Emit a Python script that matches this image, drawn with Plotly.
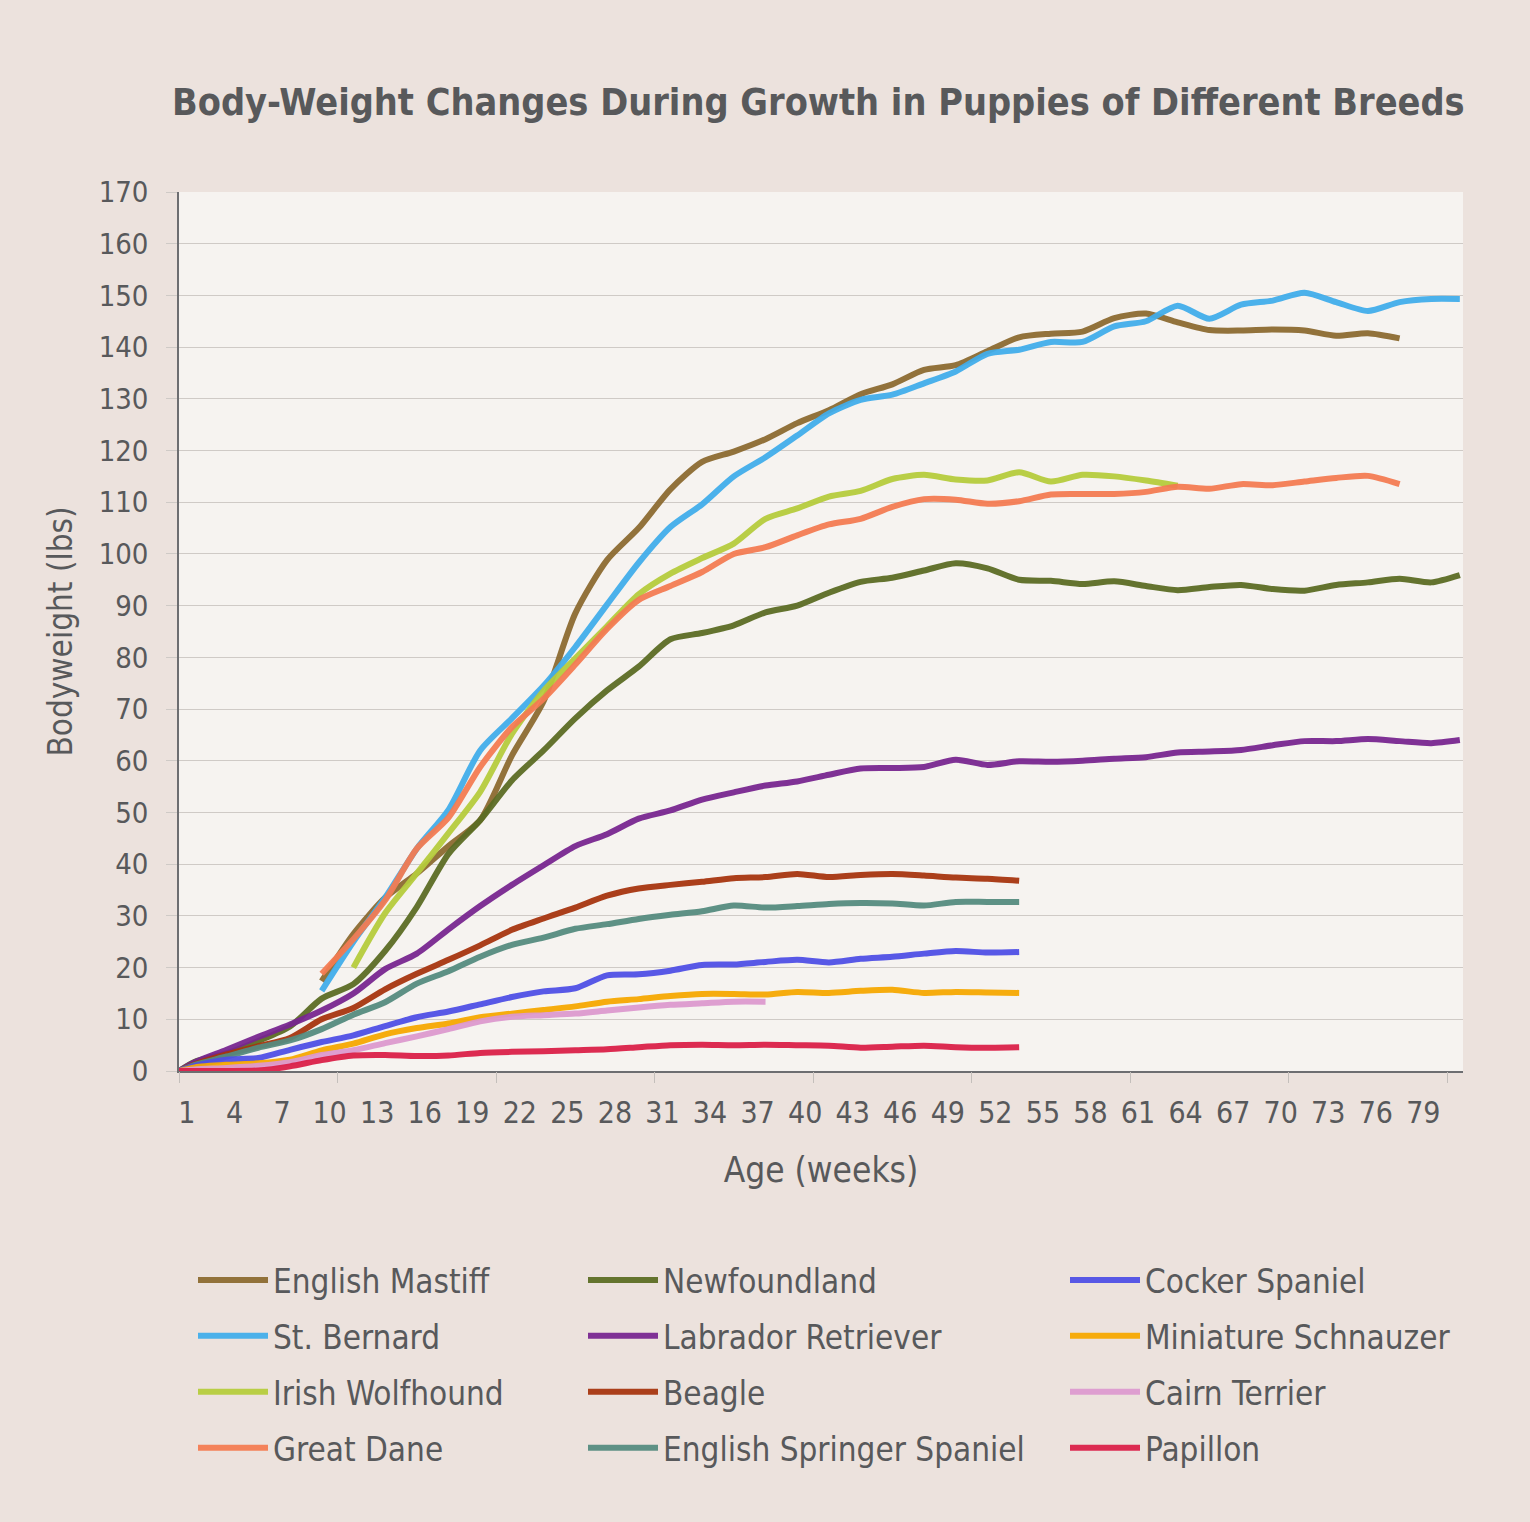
import plotly.graph_objects as go

FONT = "Liberation Sans Narrow, DejaVu Sans Condensed, Arial Narrow, sans-serif"
TEXT = "#58595B"

# sample ages (weeks), one every two weeks
age_weeks = [0.5, 1.5, 3.5, 5.5, 7.5, 9.5, 11.5, 13.5, 15.5, 17.5, 19.5, 21.5, 23.5,
             25.5, 27.5, 29.5, 31.5, 33.5, 35.5, 37.5, 39.5, 41.5, 43.5, 45.5, 47.5,
             49.5, 51.5, 53.5, 55.5, 57.5, 59.5, 61.5, 63.5, 65.5, 67.5, 69.5, 71.5,
             73.5, 75.5, 77.5, 79.5, 81.3]

# bodyweight (lbs); the number given in `series` is the index of the first age used
english_mastiff = [17.4, 26.5, 33.5, 38.2, 43.5, 48.5, 61, 71.5, 88.5, 98.8, 105, 112.5,
                   117.8, 119.8, 122.2, 125.3, 127.8, 130.9, 132.8, 135.6, 136.5, 139.2,
                   141.9, 142.6, 143, 145.6, 146.5, 144.8, 143.3, 143.2, 143.4, 143.2,
                   142.2, 142.7, 141.7]
st_bernard = [15.5, 25, 33.5, 43, 50.5, 62, 68.2, 74.5, 82, 90.2, 98.3, 105.2, 109.6, 115,
              118.7, 122.9, 127.2, 129.8, 130.8, 133, 135.3, 138.7, 139.5, 141, 141, 144,
              145, 148, 145.5, 148.2, 149, 150.5, 148.7, 147, 148.7, 149.3, 149.3]
irish_wolfhound = [20, 30.5, 38.2, 46, 54, 65.2, 73.5, 79.8, 86, 92.2, 96.2, 99.2, 102,
                   106.8, 108.8, 111.1, 112.2, 114.5, 115.3, 114.4, 114.2, 115.8, 114,
                   115.3, 115, 114.2, 113.2]
great_dane = [18.8, 25.5, 33, 43, 49, 58.8, 66.5, 72, 78.6, 85.5, 91.1, 93.8, 96.5, 100,
              101.3, 103.6, 105.7, 106.8, 109.1, 110.6, 110.5, 109.7, 110.2, 111.5, 111.6,
              111.6, 112, 113, 112.6, 113.5, 113.3, 114, 114.7, 115.1, 113.5]
newfoundland = [0, 1.8, 3.4, 5.8, 8.6, 14, 16.8, 23.2, 31.7, 42, 48.5, 56.2, 62, 68.2,
                73.6, 78.2, 83.5, 84.7, 86.2, 88.7, 90, 92.5, 94.6, 95.4, 96.8, 98.2, 97.2,
                95, 94.8, 94.2, 94.7, 93.8, 93, 93.6, 94, 93.2, 92.9, 94, 94.5, 95.2,
                94.5, 95.9]
labrador_retriever = [0, 1.7, 4.1, 6.6, 9.0, 11.7, 15, 19.7, 22.7, 27.4, 31.9, 36, 39.8,
                      43.5, 45.8, 48.8, 50.4, 52.5, 53.9, 55.2, 56, 57.3, 58.5, 58.6, 58.8,
                      60.2, 59.2, 59.9, 59.8, 60, 60.4, 60.7, 61.6, 61.8, 62.1, 63, 63.8,
                      63.8, 64.2, 63.8, 63.4, 64]
beagle = [0, 1.3, 3.2, 4.8, 6.4, 10, 12.2, 15.8, 18.8, 21.5, 24.3, 27.3, 29.5, 31.6, 33.9,
          35.3, 36, 36.6, 37.3, 37.5, 38.1, 37.5, 37.9, 38.1, 37.8, 37.4, 37.2, 36.8]
english_springer_spaniel = [0, 1.2, 2.8, 4.5, 5.9, 8.1, 10.9, 13.3, 16.9, 19.3, 22.1, 24.4,
                            25.8, 27.5, 28.4, 29.4, 30.2, 30.9, 32, 31.6, 31.9, 32.3, 32.5,
                            32.4, 32, 32.7, 32.7, 32.7]
cocker_spaniel = [0, 1.0, 2.2, 2.5, 4.1, 5.6, 6.9, 8.7, 10.4, 11.5, 12.9, 14.3, 15.4, 16,
                  18.5, 18.7, 19.4, 20.5, 20.6, 21.1, 21.5, 21, 21.7, 22.1, 22.7, 23.2,
                  22.9, 23]
miniature_schnauzer = [0, 0.7, 1.2, 1.5, 2.2, 4.0, 5.3, 7.1, 8.3, 9.2, 10.4, 11.1, 11.8,
                       12.5, 13.4, 13.9, 14.5, 14.9, 14.9, 14.8, 15.3, 15.1, 15.5, 15.7,
                       15.1, 15.3, 15.2, 15.1]
cairn_terrier = [0, 0.3, 0.6, 1.0, 1.7, 3.1, 4, 5.4, 6.7, 8.1, 9.6, 10.5, 10.8, 11.1, 11.7,
                 12.3, 12.8, 13.1, 13.4, 13.4]
papillon = [0, 0, 0, 0.1, 0.9, 2.1, 3, 3.1, 2.9, 3, 3.5, 3.7, 3.8, 4, 4.2, 4.6, 5, 5.1, 5,
            5.1, 5, 4.9, 4.5, 4.7, 4.9, 4.6, 4.5, 4.6]

week_labels = [1, 4, 7, 10, 13, 16, 19, 22, 25, 28, 31, 34, 37, 40, 43, 46, 49, 52, 55,
               58, 61, 64, 67, 70, 73, 76, 79]
tick_marks = [0.5, 10.5, 20.5, 30.5, 40.5, 50.5, 60.5, 70.5, 80.5]


def pad(values, first):
    row = [None] * first + list(values)
    return row + [None] * (len(age_weeks) - len(row))


# (name, values, first index, colour, legend column)
series = [
    ("English Mastiff", english_mastiff, 5, "#8C6A30", "legend"),
    ("St. Bernard", st_bernard, 5, "#41ADEB", "legend"),
    ("Irish Wolfhound", irish_wolfhound, 6, "#B6CC3C", "legend"),
    ("Great Dane", great_dane, 5, "#F47B52", "legend"),
    ("Newfoundland", newfoundland, 0, "#5B6C23", "legend2"),
    ("Labrador Retriever", labrador_retriever, 0, "#782590", "legend2"),
    ("Beagle", beagle, 0, "#A7340E", "legend2"),
    ("English Springer Spaniel", english_springer_spaniel, 0, "#558B7F", "legend2"),
    ("Cocker Spaniel", cocker_spaniel, 0, "#4F4FE6", "legend3"),
    ("Miniature Schnauzer", miniature_schnauzer, 0, "#F6A800", "legend3"),
    ("Cairn Terrier", cairn_terrier, 0, "#DD99CF", "legend3"),
    ("Papillon", papillon, 0, "#DB1F48", "legend3"),
]

fig = go.Figure()
for name, values, first, color, leg in series:
    fig.add_trace(go.Scatter(
        x=age_weeks, y=pad(values, first), name=name, mode="lines",
        line=dict(color=color, width=6, shape="spline", smoothing=0.7),
        opacity=0.94, legend=leg, legendgroup=name,
    ))

# empty trace so the overlaid axis carrying the tick marks is drawn
fig.add_trace(go.Scatter(x=[], y=[], xaxis="x2", showlegend=False, hoverinfo="skip"))

# legends sit in the bottom margin, positioned in plot-area (paper) units
legend_top = (1071 - 1252) / 879
legend_style = dict(
    xanchor="left", yanchor="top", y=legend_top,
    orientation="v", font=dict(family=FONT, size=33, color=TEXT),
    bgcolor="rgba(0,0,0,0)", tracegroupgap=10, itemwidth=70,
)
fig.update_layout(
    width=1530, height=1522,
    paper_bgcolor="#ECE2DD", plot_bgcolor="#F6F3F0",
    margin=dict(l=179, r=67, t=192, b=451, autoexpand=False),
    font=dict(family=FONT, color=TEXT),
    title=dict(text="<b>Body-Weight Changes During Growth in Puppies of Different Breeds</b>",
               x=172 / 1530, xanchor="left", y=1 - 102 / 1522, yanchor="middle",
               font=dict(family=FONT, size=37.5, color=TEXT)),
    legend=dict(legend_style, x=(193 - 179) / 1284),
    legend2=dict(legend_style, x=(583 - 179) / 1284),
    legend3=dict(legend_style, x=(1065 - 179) / 1284),
    xaxis=dict(
        range=[0.5, 81.5], tickmode="array", tickvals=week_labels,
        ticks="", showgrid=False, zeroline=False,
        showline=True, linecolor="#6D6E71", linewidth=2,
        tickfont=dict(size=30, color=TEXT), ticklabelstandoff=14,
        title=dict(text="Age (weeks)", font=dict(size=35, color=TEXT), standoff=28),
    ),
    xaxis2=dict(
        range=[0.5, 81.5], overlaying="x", anchor="y", side="bottom",
        tickmode="array", tickvals=tick_marks, showticklabels=False,
        ticks="outside", ticklen=11, tickcolor="#C4BFBB",
        showgrid=False, zeroline=False, showline=False,
    ),
    yaxis=dict(
        range=[0, 170], tick0=0, dtick=10, zeroline=False,
        gridcolor="#CFCAC6", gridwidth=1,
        ticks="outside", ticklen=11, tickcolor="#CFCAC6",
        showline=True, linecolor="#6D6E71", linewidth=1.5,
        tickfont=dict(size=29, color=TEXT), ticklabelstandoff=12,
        title=dict(text="Bodyweight (lbs)", font=dict(size=33, color=TEXT), standoff=16),
    ),
)

fig.write_html("out.html", config={"displayModeBar": False},
               post_script="document.body.style.margin='0';")
